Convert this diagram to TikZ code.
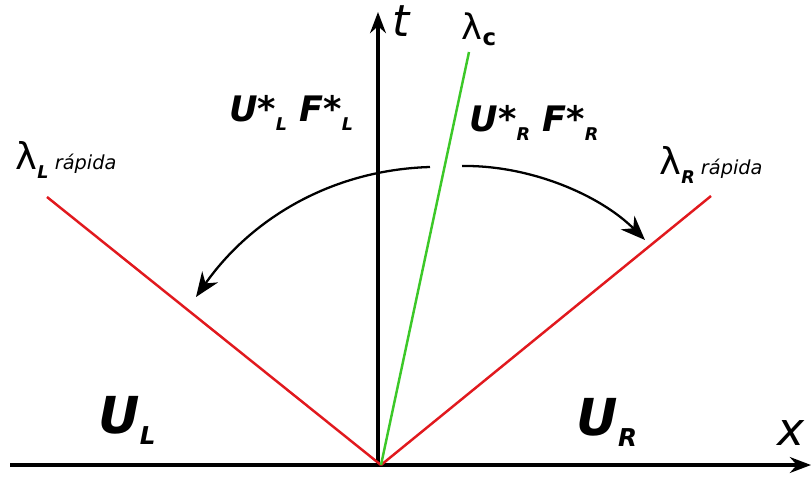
\documentclass[tikz,border=0pt]{standalone}
\usepackage{fontspec}
\setmainfont{DejaVu Sans}
\usetikzlibrary{positioning,arrows.meta}

\definecolor{fanred}{RGB}{225,25,30}
\definecolor{fangreen}{RGB}{60,200,40}
\newcommand{\fs}[1]{\fontsize{#1}{#1}\selectfont}
\newcommand{\lo}[1]{\raisebox{-0.45ex}{\fs{10}\bfseries\itshape #1}}

\begin{document}
\begin{tikzpicture}[x=0.02cm, y=-0.02cm,
  axis/.style={line width=1.9pt, -{Stealth[length=12pt,width=9pt]}},
  wave/.style={fanred, line width=1.4pt},
  contact/.style={fangreen, line width=1.4pt},
  swing/.style={line width=1.3pt, -{Stealth[length=14pt,width=11pt]}},
  lbl/.style={inner sep=0pt}]
\useasboundingbox (0,0) rectangle (811,480);
% axes
\coordinate (o) at (381,465);
\coordinate (xl) at (10,465);
\coordinate (xr) at (811,465);
\coordinate (tb) at (378,465);
\coordinate (tt) at (378,12);
\draw[axis] (xl) -- (xr);
\draw[axis] (tb) -- (tt);
\node[lbl, font=\fs{25}\itshape] (t) at (401,21) {t};
\node[lbl, font=\fs{26}\itshape] (x) at (791,433) {x};
% waves from the origin
\coordinate (wl) at (47,197);
\coordinate (wr) at (711,196);
\coordinate (wc) at (469,52);
\draw[wave] (o) -- (wl);
\draw[wave] (o) -- (wr);
\draw[contact] (o) -- (wc);
\node[lbl, font=\fs{20}] (lc) at (479,29) {λ\raisebox{-0.3ex}{\fs{13}\bfseries c}};
\node[lbl, font=\fs{21}] (ll) at (66,160) {λ\lo{L}\,{\fs{11}\itshape rápida}};
\node[lbl, font=\fs{21}] (lr) at (711,165) {λ\lo{R}\,{\fs{11}\itshape rápida}};
% states
\node[lbl, font=\fs{29}\bfseries\itshape] (ul) at (127,420) {U\raisebox{-0.4ex}{\fs{14}L}};
\node[lbl, font=\fs{29}\bfseries\itshape] (ur) at (607,422) {U\raisebox{-0.4ex}{\fs{14}R}};
\node[lbl, font=\fs{20}\bfseries\itshape] (sl) at (291,113)
  {U*\raisebox{-0.5ex}{\fs{10}L}\ F*\raisebox{-0.5ex}{\fs{10}L}};
\node[lbl, font=\fs{20}\bfseries\itshape] (sr) at (534,123)
  {U*\raisebox{-0.5ex}{\fs{10}R}\ F*\raisebox{-0.5ex}{\fs{10}R}};
% fastest waves swing outwards
\coordinate (al) at (430,167);
\coordinate (ar) at (462,166);
\coordinate (tl) at (196,297);
\coordinate (tr) at (645,240);
\draw[swing] (al) .. controls (330,170) and (250,220) .. (tl);
\draw[swing] (ar) .. controls (530,165) and (600,195) .. (tr);
\end{tikzpicture}
\end{document}
